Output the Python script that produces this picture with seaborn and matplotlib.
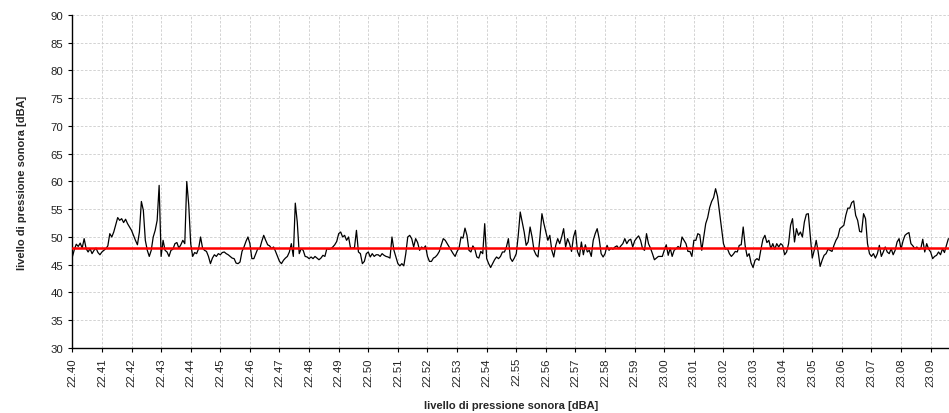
import numpy as np
import pandas as pd
import matplotlib
matplotlib.use('Agg')
import matplotlib.pyplot as plt
import seaborn as sns

# sound level readings (dBA), one every 4 seconds from 22.40
levels_2240_2249 = [
    46.4, 47.7, 48.7, 48.3, 48.9, 48.0, 49.7, 47.9, 47.3, 47.9, 47.0, 47.6, 48.0, 47.2, 46.8,
    47.3, 47.6, 47.9, 48.4, 50.6, 50.0, 50.9, 52.2, 53.5, 53.0, 53.3, 52.6, 53.2, 52.4, 51.8,
    51.2, 50.3, 49.4, 48.6, 50.9, 56.4, 54.8, 49.4, 47.6, 46.5, 47.6, 50.0, 51.2, 53.0, 59.3,
    46.5, 49.4, 47.6, 47.3, 46.5, 47.6, 47.8, 48.8, 49.0, 48.0, 48.6, 49.4, 48.8, 60.0, 55.8,
    48.8, 46.5, 47.2, 47.0, 47.9, 50.0, 48.0, 47.6, 47.4, 46.5, 45.2, 46.2, 46.8, 46.5, 47.0,
    46.8, 47.2, 47.3, 47.0, 46.8, 46.5, 46.2, 46.1, 45.3, 45.2, 45.5, 47.4, 48.2, 49.2, 50.0,
    48.8, 46.1, 46.1, 47.0, 47.9, 47.9, 49.2, 50.3, 49.4, 48.6, 48.4, 47.9, 48.2, 47.4, 46.5,
    45.6, 45.2, 45.8, 46.2, 46.5, 47.3, 48.8, 46.5, 56.1, 52.7, 47.0, 47.9, 47.6, 46.5, 46.4,
    46.1, 46.4, 46.1, 46.5, 46.2, 45.9, 46.2, 46.7, 46.5, 47.9, 47.8, 47.9, 48.2, 48.6, 49.2,
    50.6, 50.9, 50.0, 50.3, 49.4, 50.0, 48.0, 48.0, 48.1, 51.2, 47.3, 47.0, 45.2, 45.6, 47.0,
]
levels_2250_2259 = [
    47.3, 46.4, 47.0, 46.5, 46.8, 46.8, 46.5, 47.0, 46.7, 46.5, 46.4, 46.2, 50.0, 47.6, 46.4,
    45.2, 44.8, 45.2, 44.8, 47.0, 50.0, 50.3, 49.7, 48.2, 49.7, 49.0, 47.6, 48.2, 47.9, 48.4,
    46.5, 45.6, 45.6, 46.2, 46.4, 46.8, 47.4, 48.6, 49.7, 49.4, 48.8, 48.2, 47.6, 47.0, 46.5,
    47.4, 48.0, 50.0, 49.8, 51.6, 50.3, 47.6, 47.3, 48.4, 47.8, 46.4, 46.2, 47.4, 47.0, 52.4,
    46.1, 45.2, 44.5, 45.2, 45.9, 46.4, 46.1, 46.5, 47.3, 47.3, 48.2, 49.7, 46.2, 45.6, 46.2,
    47.0, 50.3, 54.5, 52.7, 50.9, 48.5, 49.1, 51.8, 50.0, 47.6, 46.8, 46.4, 50.0, 54.2, 52.4,
    50.9, 49.4, 50.3, 47.6, 46.4, 48.5, 49.7, 48.8, 50.0, 51.5, 48.2, 49.7, 48.8, 47.4, 50.0,
    51.2, 47.4, 46.5, 49.1, 46.8, 48.6, 47.3, 47.6, 46.5, 49.4, 50.6, 51.5, 49.7, 47.0, 46.4,
    47.0, 48.5, 47.6, 48.0, 47.8, 48.2, 48.4, 47.9, 48.4, 48.8, 49.7, 48.8, 49.4, 49.6, 48.2,
    49.3, 49.8, 50.2, 49.4, 47.9, 47.6, 50.6, 48.8, 48.0, 47.0, 45.9, 46.2, 46.5, 46.5, 46.5,
]
levels_2300_2309 = [
    47.6, 48.6, 46.7, 48.0, 46.5, 47.6, 47.9, 48.3, 47.9, 50.0, 49.4, 48.8, 47.4, 47.4, 46.5,
    49.4, 49.4, 50.6, 50.4, 47.6, 50.0, 52.4, 53.5, 55.3, 56.4, 57.1, 58.7, 57.3, 54.5, 51.8,
    48.8, 47.8, 47.9, 47.0, 46.5, 46.9, 47.4, 47.3, 48.5, 48.6, 51.8, 48.4, 46.5, 47.0, 45.3,
    44.5, 45.8, 46.1, 45.8, 47.8, 49.6, 50.3, 49.0, 49.4, 47.9, 48.8, 47.8, 48.8, 48.2, 48.8,
    48.5, 46.8, 47.3, 48.8, 52.1, 53.3, 49.1, 51.5, 50.3, 50.9, 50.0, 52.7, 54.1, 54.2, 50.3,
    46.2, 47.6, 49.4, 47.3, 44.7, 45.8, 46.7, 47.0, 47.8, 47.6, 47.4, 48.5, 49.4, 50.0, 51.5,
    51.8, 52.1, 53.9, 55.2, 55.2, 56.2, 56.5, 53.9, 53.0, 51.0, 50.9, 54.2, 53.3, 48.8, 47.0,
    46.5, 47.0, 46.2, 47.0, 48.5, 46.5, 47.3, 48.2, 47.3, 47.0, 47.9, 46.8, 47.6, 49.1, 49.7,
    47.8, 49.3, 50.3, 50.6, 50.8, 48.8, 48.4, 47.9, 48.2, 47.8, 47.9, 49.6, 47.3, 48.8, 47.8,
    47.3, 46.1, 46.5, 46.7, 47.3, 46.8, 47.9, 47.2, 48.5, 49.7,
]
sample_interval_s = 4
reference_level = 48.1

tick_labels = ['22.40', '22.41', '22.42', '22.43', '22.44', '22.45', '22.46', '22.47', '22.48', '22.49',
               '22.50', '22.51', '22.52', '22.53', '22.54', '22.55', '22.56', '22.57', '22.58', '22.59',
               '23.00', '23.01', '23.02', '23.03', '23.04', '23.05', '23.06', '23.07', '23.08', '23.09']

levels = levels_2240_2249 + levels_2250_2259 + levels_2300_2309
df = pd.DataFrame({'minutes': np.arange(len(levels)) * sample_interval_s / 60,
                   'level': levels})

sns.set_style('white')
plt.rcParams['font.family'] = ['Liberation Sans', 'DejaVu Sans']

fig = plt.figure(figsize=(9.49, 4.14), dpi=100)
ax = fig.add_axes([0.0762, 0.157, 0.9238, 0.8044])

sns.lineplot(data=df, x='minutes', y='level', color='black', linewidth=0.9, ax=ax)
ax.axhline(reference_level, color='red', linewidth=1.8, zorder=3)

ax.set_ylim(30, 90)
ax.set_yticks(np.arange(30, 91, 5))
ax.set_xlim(0, 29.62)
ax.set_xticks(range(len(tick_labels)))
ax.set_xticklabels(tick_labels, rotation=90)
ax.tick_params(axis='both', labelsize=8.2, length=3, width=0.8, direction='out',
               bottom=True, left=True, colors='black', labelcolor='#222222')

ax.grid(True, color='#cccccc', linestyle=(0, (3, 2)), linewidth=0.6)
ax.set_axisbelow(True)
for side in ['top', 'right']:
    ax.spines[side].set_visible(False)
for side in ['left', 'bottom']:
    ax.spines[side].set_color('black')
    ax.spines[side].set_linewidth(1.0)

ax.set_xlabel('livello di pressione sonora [dBA]', fontsize=8, fontweight='bold', labelpad=10)
ax.set_ylabel('livello di pressione sonora [dBA]', fontsize=8, fontweight='bold', labelpad=17)

fig.savefig('out.png', dpi=100)
